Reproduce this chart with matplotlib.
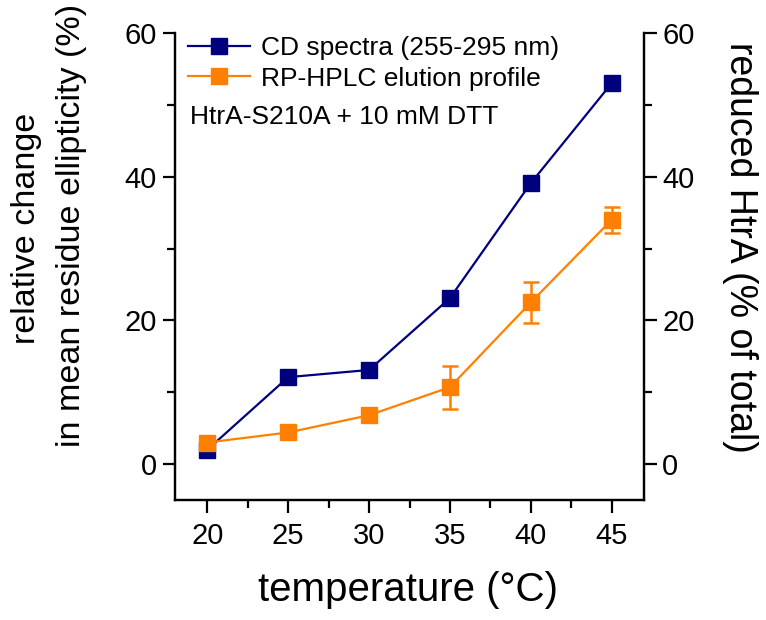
import numpy as np
import matplotlib
matplotlib.use("Agg")
from matplotlib import pyplot as plt
from matplotlib.lines import Line2D
from matplotlib.ticker import MultipleLocator

plt.rcParams['font.family'] = ['Liberation Sans', 'DejaVu Sans']

temperature = [20, 25, 30, 35, 40, 45]
cd_change = [2.0, 12.1, 13.1, 23.1, 39.1, 53.0]
hplc_reduced = [3.0, 4.4, 6.8, 10.7, 22.5, 34.0]
hplc_err = [0.3, 0.3, 0.6, 3.0, 2.8, 1.8]

navy = '#00007f'
orange = '#ff8000'

W, H = 766, 620
fig = plt.figure(figsize=(W / 100, H / 100), dpi=100)
ax = fig.add_axes([175 / W, 1 - 500 / H, (644 - 175) / W, (500 - 33) / H])

ax.plot(temperature, cd_change, '-s', color=navy, lw=1.6, markersize=11.5, zorder=3)
ax.errorbar(temperature, hplc_reduced, yerr=hplc_err, fmt='-s', color=orange, lw=1.6,
            markersize=11.5, elinewidth=1.8, capsize=5.5, capthick=1.8, zorder=4)

ax.set_xlim(18, 47)
ax.set_ylim(-5, 60)
ax.xaxis.set_major_locator(MultipleLocator(5))
ax.xaxis.set_minor_locator(MultipleLocator(2.5))
ax.yaxis.set_major_locator(MultipleLocator(20))
ax.yaxis.set_minor_locator(MultipleLocator(10))

ax2 = ax.twinx()
ax2.set_ylim(ax.get_ylim())
ax2.yaxis.set_major_locator(MultipleLocator(20))
ax2.yaxis.set_minor_locator(MultipleLocator(10))

for a in (ax, ax2):
    a.spines['top'].set_visible(False)
    for s in a.spines.values():
        s.set_linewidth(1.6)
    a.tick_params(which='major', direction='out', length=9, width=1.6, labelsize=21, pad=4)
    a.tick_params(which='minor', direction='out', length=5.5, width=1.6)

ax.tick_params(axis='x', pad=7)

handles = [
    Line2D([], [], color=navy, lw=1.6, marker='s', markersize=11),
    Line2D([], [], color=orange, lw=1.6, marker='s', markersize=11),
]
labels = ['CD spectra (255-295 nm)', 'RP-HPLC elution profile']
ax.legend(handles, labels, loc='upper left', bbox_to_anchor=(188 / W, 1 - 36 / H),
          bbox_transform=fig.transFigure, frameon=False, fontsize=19,
          handlelength=2.35, handletextpad=0.4, labelspacing=0.25,
          borderpad=0, borderaxespad=0)
fig.text(190 / W, 1 - 117 / H, 'HtrA-S210A + 10 mM DTT', fontsize=19,
         ha='left', va='center')

fig.text(408 / W, 1 - 590 / H, 'temperature (°C)', fontsize=29, ha='center', va='center')
fig.text(27 / W, 1 - 228 / H, 'relative change', fontsize=24.5, rotation=90,
         ha='center', va='center')
fig.text(72 / W, 1 - 225 / H, 'in mean residue ellipticity (%)', fontsize=24.5,
         rotation=90, ha='center', va='center')
fig.text(740 / W, 1 - 247 / H, 'reduced HtrA (% of total)', fontsize=27,
         rotation=270, ha='center', va='center')

fig.savefig('out.png', dpi=100)
